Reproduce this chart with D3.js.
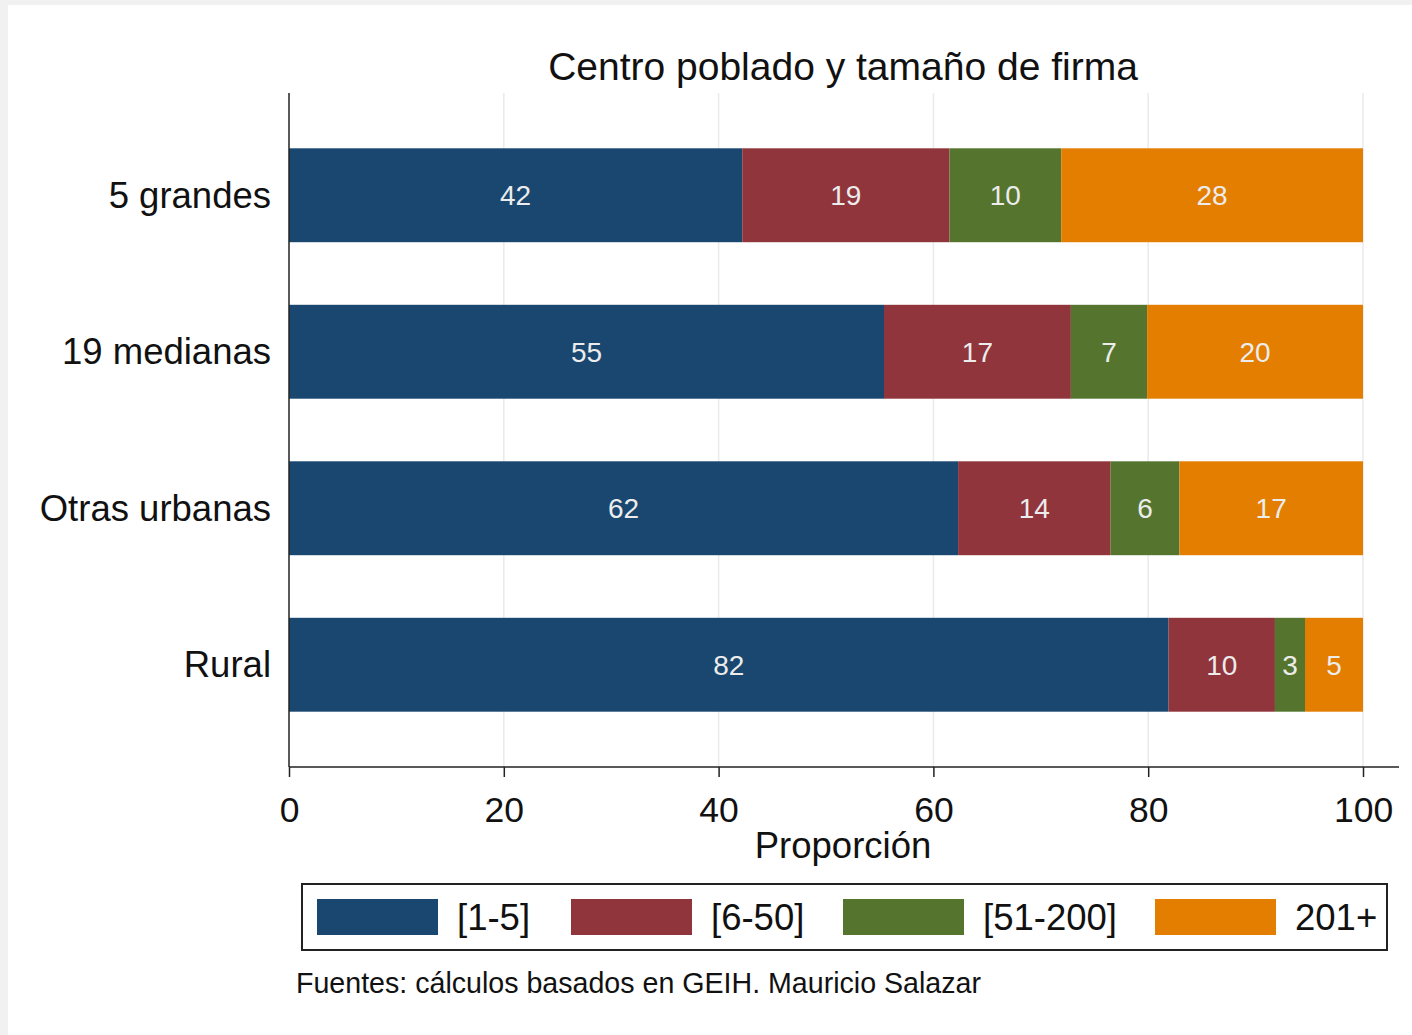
<!DOCTYPE html>
<html><head><meta charset="utf-8">
<script src="https://cdn.jsdelivr.net/npm/d3@7"></script>
<style>body{margin:0;background:#f1f1f1;} svg{display:block;}</style>
</head><body>
<svg id="c" width="1412" height="1035"></svg>
<script>
const categories = ["5 grandes", "19 medianas", "Otras urbanas", "Rural"];
const seriesNames = ["[1-5]", "[6-50]", "[51-200]", "201+"];
const s1 = [42.2, 55.4, 62.3, 81.9];
const s2 = [19.3, 17.4, 14.2, 9.9];
const s3 = [10.4, 7.1, 6.4, 2.8];
const s4 = [28.1, 20.1, 17.1, 5.4];
const xTicks = [0, 20, 40, 60, 80, 100];
const colors = ["#1a476f", "#90353b", "#55752f", "#e37e00"];
const title = "Centro poblado y tamaño de firma";
const xTitle = "Proporción";
const note = "Fuentes: cálculos basados en GEIH. Mauricio Salazar";

(function(){
const svg = d3.select("#c");
const font = "Liberation Sans, Arial, sans-serif";
svg.append("rect").attr("x", 8).attr("y", 5).attr("width", 1404).attr("height", 1030).attr("fill", "#ffffff");

const x = d3.scaleLinear().domain([0, 100]).range([289, 1363]);
const y = d3.scaleBand().domain(categories).range([117, 743]).paddingInner(0.4).paddingOuter(0.2);
const yTop = 93, yBottom = 767;

svg.append("g").selectAll("line").data(xTicks.slice(1)).join("line")
  .attr("x1", d => x(d)).attr("x2", d => x(d)).attr("y1", yTop).attr("y2", yBottom)
  .attr("stroke", "#eaeaea").attr("stroke-width", 1.5);

const series = [s1, s2, s3, s4];
const rows = categories.map((c, i) => {
  const o = {cat: c};
  seriesNames.forEach((s, j) => o[s] = series[j][i]);
  return o;
});
const stacked = d3.stack().keys(seriesNames)(rows);

const g = svg.append("g");
stacked.forEach((layer, j) => {
  g.selectAll(null).data(layer).join("rect")
    .attr("x", d => x(d[0])).attr("width", d => x(d[1]) - x(d[0]))
    .attr("y", d => y(d.data.cat)).attr("height", y.bandwidth())
    .attr("fill", colors[j]);
  g.selectAll(null).data(layer).join("text")
    .attr("x", d => (x(d[0]) + x(d[1])) / 2)
    .attr("y", d => y(d.data.cat) + y.bandwidth() / 2 + 10)
    .attr("text-anchor", "middle").attr("fill", "#ececec")
    .attr("font-family", font).attr("font-size", 28)
    .text(d => Math.round(d[1] - d[0]));
});

const xa = svg.append("g").attr("transform", `translate(0,${yBottom})`)
  .call(d3.axisBottom(x).tickValues(xTicks).tickSize(10).tickPadding(0).tickSizeOuter(0));
xa.select(".domain").remove();
xa.selectAll("line").attr("stroke", "#222").attr("stroke-width", 1.5);
xa.selectAll("text").attr("font-family", font).attr("font-size", 35.5).attr("fill", "#111")
  .attr("dy", null).attr("y", 55);
svg.append("line").attr("x1", 289).attr("x2", 1399).attr("y1", yBottom).attr("y2", yBottom)
  .attr("stroke", "#222").attr("stroke-width", 1.5);

const ya = svg.append("g").attr("transform", `translate(289,0)`)
  .call(d3.axisLeft(y).tickSize(0).tickPadding(18));
ya.select(".domain").remove();
ya.selectAll("text").attr("font-family", font).attr("font-size", 36.5).attr("fill", "#111").attr("dy", "0.34em");
svg.append("line").attr("x1", 289).attr("x2", 289).attr("y1", yTop).attr("y2", yBottom)
  .attr("stroke", "#222").attr("stroke-width", 1.5);

svg.append("text").attr("x", 843).attr("y", 80).attr("text-anchor", "middle")
  .attr("font-family", font).attr("font-size", 39).attr("fill", "#111").text(title);
svg.append("text").attr("x", 843).attr("y", 858).attr("text-anchor", "middle")
  .attr("font-family", font).attr("font-size", 36.5).attr("fill", "#111").text(xTitle);

svg.append("rect").attr("x", 302).attr("y", 884).attr("width", 1085).attr("height", 66)
  .attr("fill", "#fff").attr("stroke", "#222").attr("stroke-width", 2);
const legX = [317, 571, 843, 1155];
const lg = svg.append("g").selectAll("g").data(seriesNames).join("g")
  .attr("transform", (d, i) => `translate(${legX[i]},899)`);
lg.append("rect").attr("width", 121).attr("height", 36).attr("fill", (d, i) => colors[i]);
lg.append("text").attr("x", 140).attr("y", 31).attr("font-family", font).attr("font-size", 36.5)
  .attr("fill", "#111").text(d => d);

svg.append("text").attr("x", 296).attr("y", 993).attr("font-family", font).attr("font-size", 28.6)
  .attr("fill", "#111").text(note);
})();
</script>
</body></html>
